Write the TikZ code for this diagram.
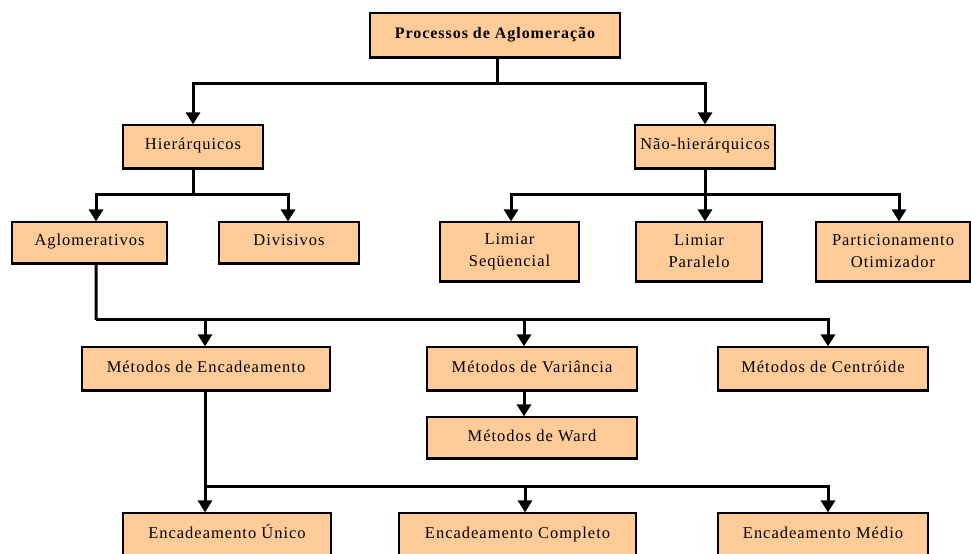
\documentclass[tikz,border=0pt]{standalone}
\usepackage{fontspec}
\setmainfont{Liberation Serif}[LetterSpace=6]
\usetikzlibrary{arrows.meta}
\definecolor{peach}{RGB}{255,204,153}
\tikzset{
  boxbase/.style={draw=black, line width=1.2bp, fill=peach, inner sep=0pt,
    align=center, font=\fontsize{16.5bp}{22bp}\selectfont},
  box/.style={boxbase, text height=11bp, text depth=4bp},
  tallbox/.style={boxbase, minimum height=59bp},
  conn/.style={line width=3bp, line join=miter},
  arr/.style={conn, -{Triangle[width=14bp,length=12bp]}}
}
\begin{document}
\begin{tikzpicture}[x=1bp,y=-1bp]
\clip (0,0) rectangle (971,554);
\fill[white] (0,0) rectangle (971,554);

% level 0
\node[box, minimum width=250bp, minimum height=44bp, font=\fontsize{16bp}{22bp}\selectfont\bfseries]
  (top) at (495,35) {Processos de Aglomeração};

% level 1
\node[box, minimum width=140bp, minimum height=43bp] (hier) at (193,146.5) {Hierárquicos};
\node[box, minimum width=140bp, minimum height=43bp] (naoh) at (705,146.5) {Não-hierárquicos};

% level 2
\node[box, minimum width=155bp, minimum height=41bp] (aglo) at (89.5,242.5) {Aglomerativos};
\node[box, minimum width=140bp, minimum height=41bp] (divi) at (289,242.5) {Divisivos};
\node[tallbox, minimum width=139bp] (lseq) at (509.5,251.5) {Limiar\\Seqüencial};
\node[tallbox, minimum width=126bp] (lpar) at (699,251.5) {Limiar\\Paralelo};
\node[tallbox, minimum width=154bp] (part) at (893,251.5) {Particionamento\\Otimizador};

% level 3
\node[box, minimum width=248bp, minimum height=43bp] (menc) at (206,368.5) {Métodos de Encadeamento};
\node[box, minimum width=210bp, minimum height=43bp] (mvar) at (532,368.5) {Métodos de Variância};
\node[box, minimum width=210bp, minimum height=43bp] (mcen) at (823,368.5) {Métodos de Centróide};
\node[box, minimum width=210bp, minimum height=41bp] (ward) at (532,437.5) {Métodos de Ward};

% level 4
\node[box, minimum width=208bp, minimum height=43bp] (unic) at (227,534.5) {Encadeamento Único};
\node[box, minimum width=237bp, minimum height=43bp] (comp) at (517.5,534.5) {Encadeamento Completo};
\node[box, minimum width=210bp, minimum height=43bp] (medi) at (823,534.5) {Encadeamento Médio};

% heavier lower edge of every box
\foreach \n in {top,hier,naoh,aglo,divi,lseq,lpar,part,menc,mvar,mcen,ward}
  \draw[line width=2.4bp] ([yshift=-0.6bp]\n.south west) -- ([yshift=-0.6bp]\n.south east);

% branch points
\coordinate (b1) at (497,84);
\coordinate (b2) at (193,195);
\coordinate (b3) at (705,195);
\coordinate (b4) at (96,320);
\coordinate (b5) at (205,486);

% connectors
\draw[conn] (top.south -| b1) -- (b1);
\draw[arr] (b1) -| (hier.north);
\draw[arr] (b1) -| (naoh.north);

\draw[conn] (hier.south) -- (b2);
\draw[arr] (b2) -| ([xshift=6.5bp]aglo.north);
\draw[arr] (b2) -| ([xshift=-1bp]divi.north);

\draw[conn] (naoh.south) -- (b3);
\draw[arr] (b3) -| ([xshift=1.5bp]lseq.north);
\draw[arr] (b3) -| ([xshift=6bp]lpar.north);
\draw[arr] (b3) -| ([xshift=6bp]part.north);

\draw[conn] ([xshift=6.5bp]aglo.south) -- (b4);
\draw[arr] (b4) -| ([xshift=-1bp]menc.north);
\draw[arr] (b4) -| ([xshift=-8bp]mvar.north);
\draw[arr] (b4) -| ([xshift=5bp]mcen.north);

\draw[arr] ([xshift=-8bp]mvar.south) -- ([xshift=-8bp]ward.north);

\draw[conn] ([xshift=-1bp]menc.south) -- (b5);
\draw[arr] (b5) -| ([xshift=-22bp]unic.north);
\draw[arr] (b5) -| ([xshift=7.5bp]comp.north);
\draw[arr] (b5) -| ([xshift=5bp]medi.north);
\end{tikzpicture}
\end{document}
